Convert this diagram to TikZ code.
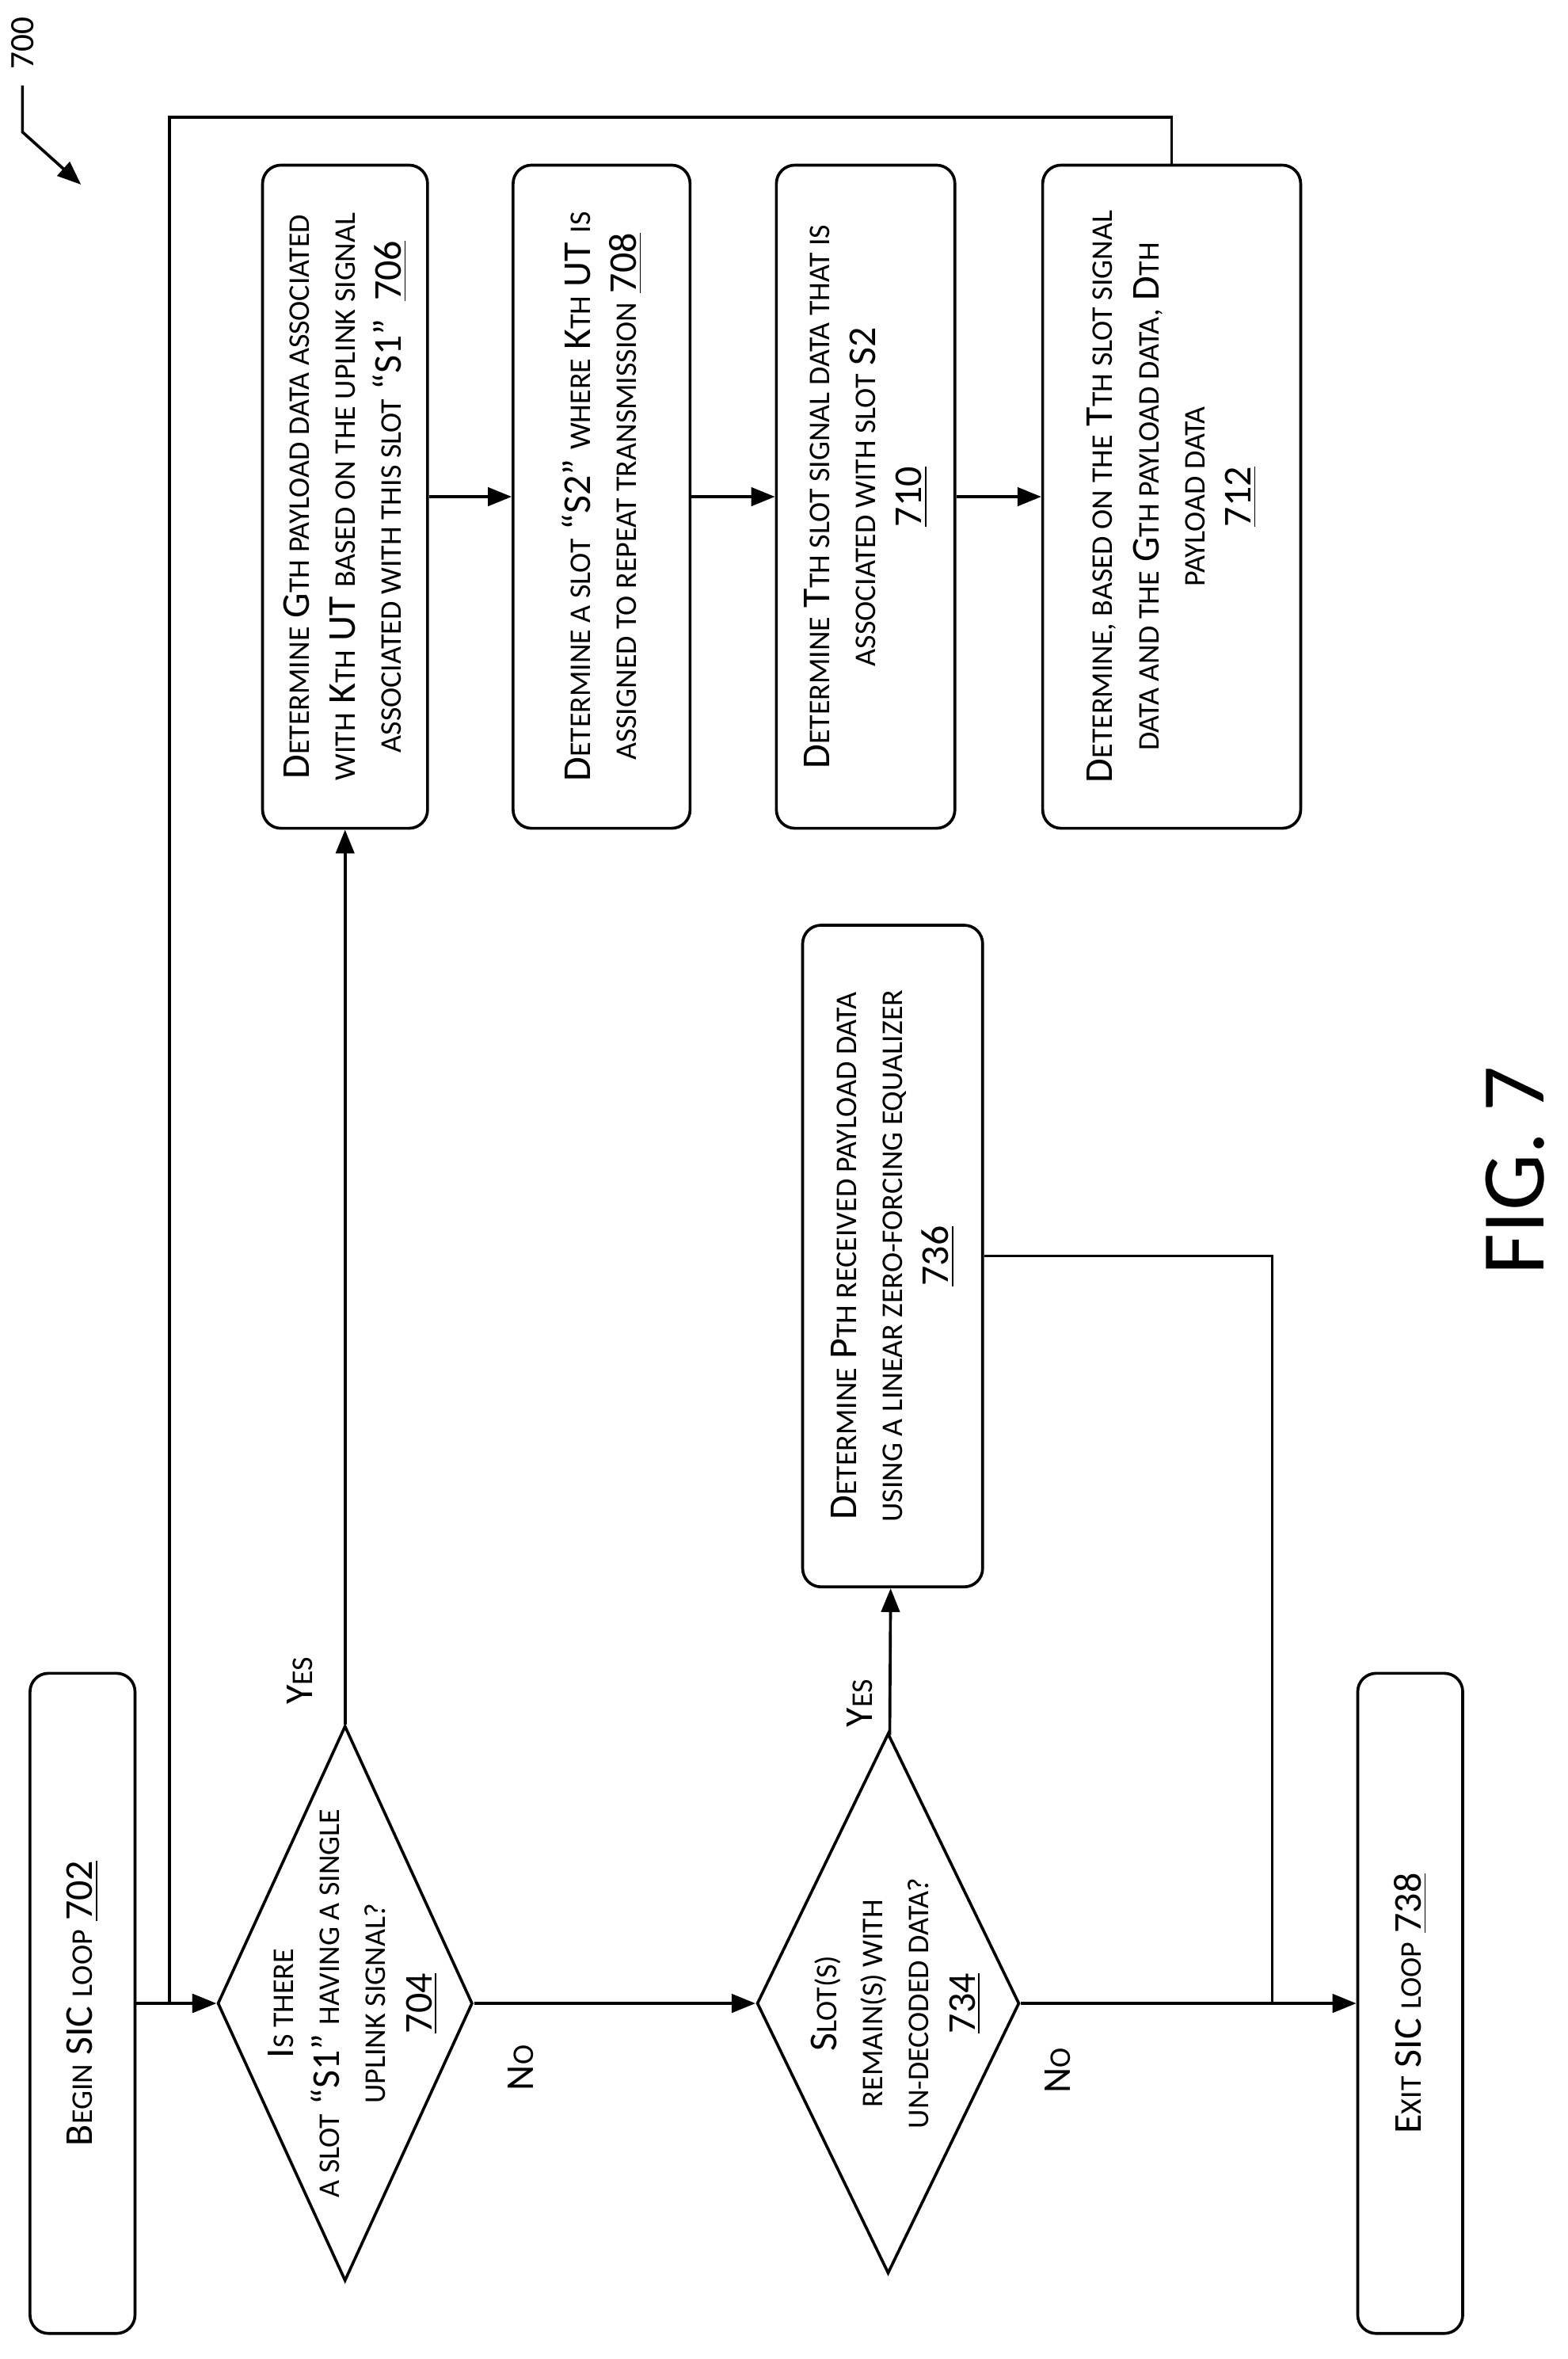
\documentclass[tikz,border=0pt]{standalone}
\usepackage{fontspec}
\setmainfont{Carlito}
\usetikzlibrary{arrows.meta,shapes.geometric}
\newcommand{\s}[1]{{\fontsize{11.4}{17.5}\selectfont\MakeUppercase{#1}}}
\begin{document}
\begin{tikzpicture}[x=0.02cm,y=-0.02cm,line width=1.1pt,
  >={Triangle[length=9pt,width=7pt]},
  box/.style={draw,rounded corners=7pt,rotate=90,align=center,font=\fontsize{15}{17.5}\selectfont,inner sep=2pt},
  dia/.style={draw,diamond,rotate=90,inner sep=0pt},
  dtext/.style={rotate=90,align=center,font=\fontsize{15}{17.5}\selectfont},
  lab/.style={rotate=90,font=\fontsize{15}{17}\selectfont}]
\useasboundingbox (0,0) rectangle (1045,1572);
\node[box,minimum width=8.8cm,minimum height=1.4cm] (b702) at (55,1335) {B\s{egin} SIC \s{loop} \underline{702}};
\node[box,minimum width=8.8cm,minimum height=1.4cm] (b738) at (940,1335) {E\s{xit} SIC \s{loop} \underline{738}};
\node[dia,minimum width=7.4cm,minimum height=3.4cm] (d704) at (230,1335) {};
\node[dtext] at (235,1335) {I\s{s there}\\ \s{a slot} “S1” \s{having a single}\\ \s{uplink signal?}\\ \underline{704}};
\node[dia,minimum width=7.2cm,minimum height=3.5cm] (d734) at (592,1335) {};
\node[dtext] at (597,1335) {S\s{lot(s)}\\ \s{remain(s) with}\\ \s{un-decoded data?}\\ \underline{734}};
\node[box,minimum width=8.82cm,minimum height=2.4cm] (b736) at (595,837) {D\s{etermine} P\s{th received payload data}\\ \s{using a linear zero-forcing equalizer}\\ \underline{736}};
\node[box,minimum width=8.84cm,minimum height=2.2cm] (b706) at (230,331) {D\s{etermine} G\s{th payload data associated}\\ \s{with} K\s{th} UT \s{based on the uplink signal}\\ \s{associated with this slot} “S1”\ \ \underline{706}};
\node[box,minimum width=8.84cm,minimum height=2.36cm] (b708) at (401,331) {D\s{etermine a slot} “S2” \s{where} K\s{th} UT \s{is}\\ \s{assigned to repeat transmission} \underline{708}};
\node[box,minimum width=8.84cm,minimum height=2.38cm] (b710) at (577,331) {D\s{etermine} T\s{th slot signal data that is}\\ \s{associated with slot} S2\\ \underline{710}};
\node[box,minimum width=8.84cm,minimum height=3.44cm] (b712) at (781,331) {D\s{etermine, based on the} T\s{th slot signal}\\ \s{data and the} G\s{th payload data,} D\s{th}\\ \s{payload data}\\ \underline{712}};
\coordinate (j) at (848,1335);
\coordinate (lc) at (113,78);
\draw[->] (b702) -- (d704);
\draw[->] (d704) -- (d734);
\draw[->] (d734) -- (b738);
\draw[->] (d704) -- (b706);
\draw[->] (d734) -- (b736);
\draw[->] (b706) -- (b708);
\draw[->] (b708) -- (b710);
\draw[->] (b710) -- (b712);
\draw (b736.south) -- (b736.south -| j) -- (j);
\draw[->] (b712.east) |- (lc) -- (lc |- d704) -- (d704.north);
\node[lab] at (200,1120) {Y\s{es}};
\node[lab] at (347,1378) {N\s{o}};
\node[lab] at (573,1135) {Y\s{es}};
\node[lab] at (705,1380) {N\s{o}};
\node[rotate=90,font=\fontsize{34}{40}\selectfont] (fig) at (1010,780) {FIG. 7};
\node[rotate=90,font=\fontsize{13}{15}\selectfont] (n700) at (15,29) {700};
\coordinate (r1) at (15,57);
\coordinate (r2) at (15,88);
\coordinate (r3) at (54,123);
\draw[->] (r1) -- (r2) -- (r3);
\end{tikzpicture}
\end{document}
